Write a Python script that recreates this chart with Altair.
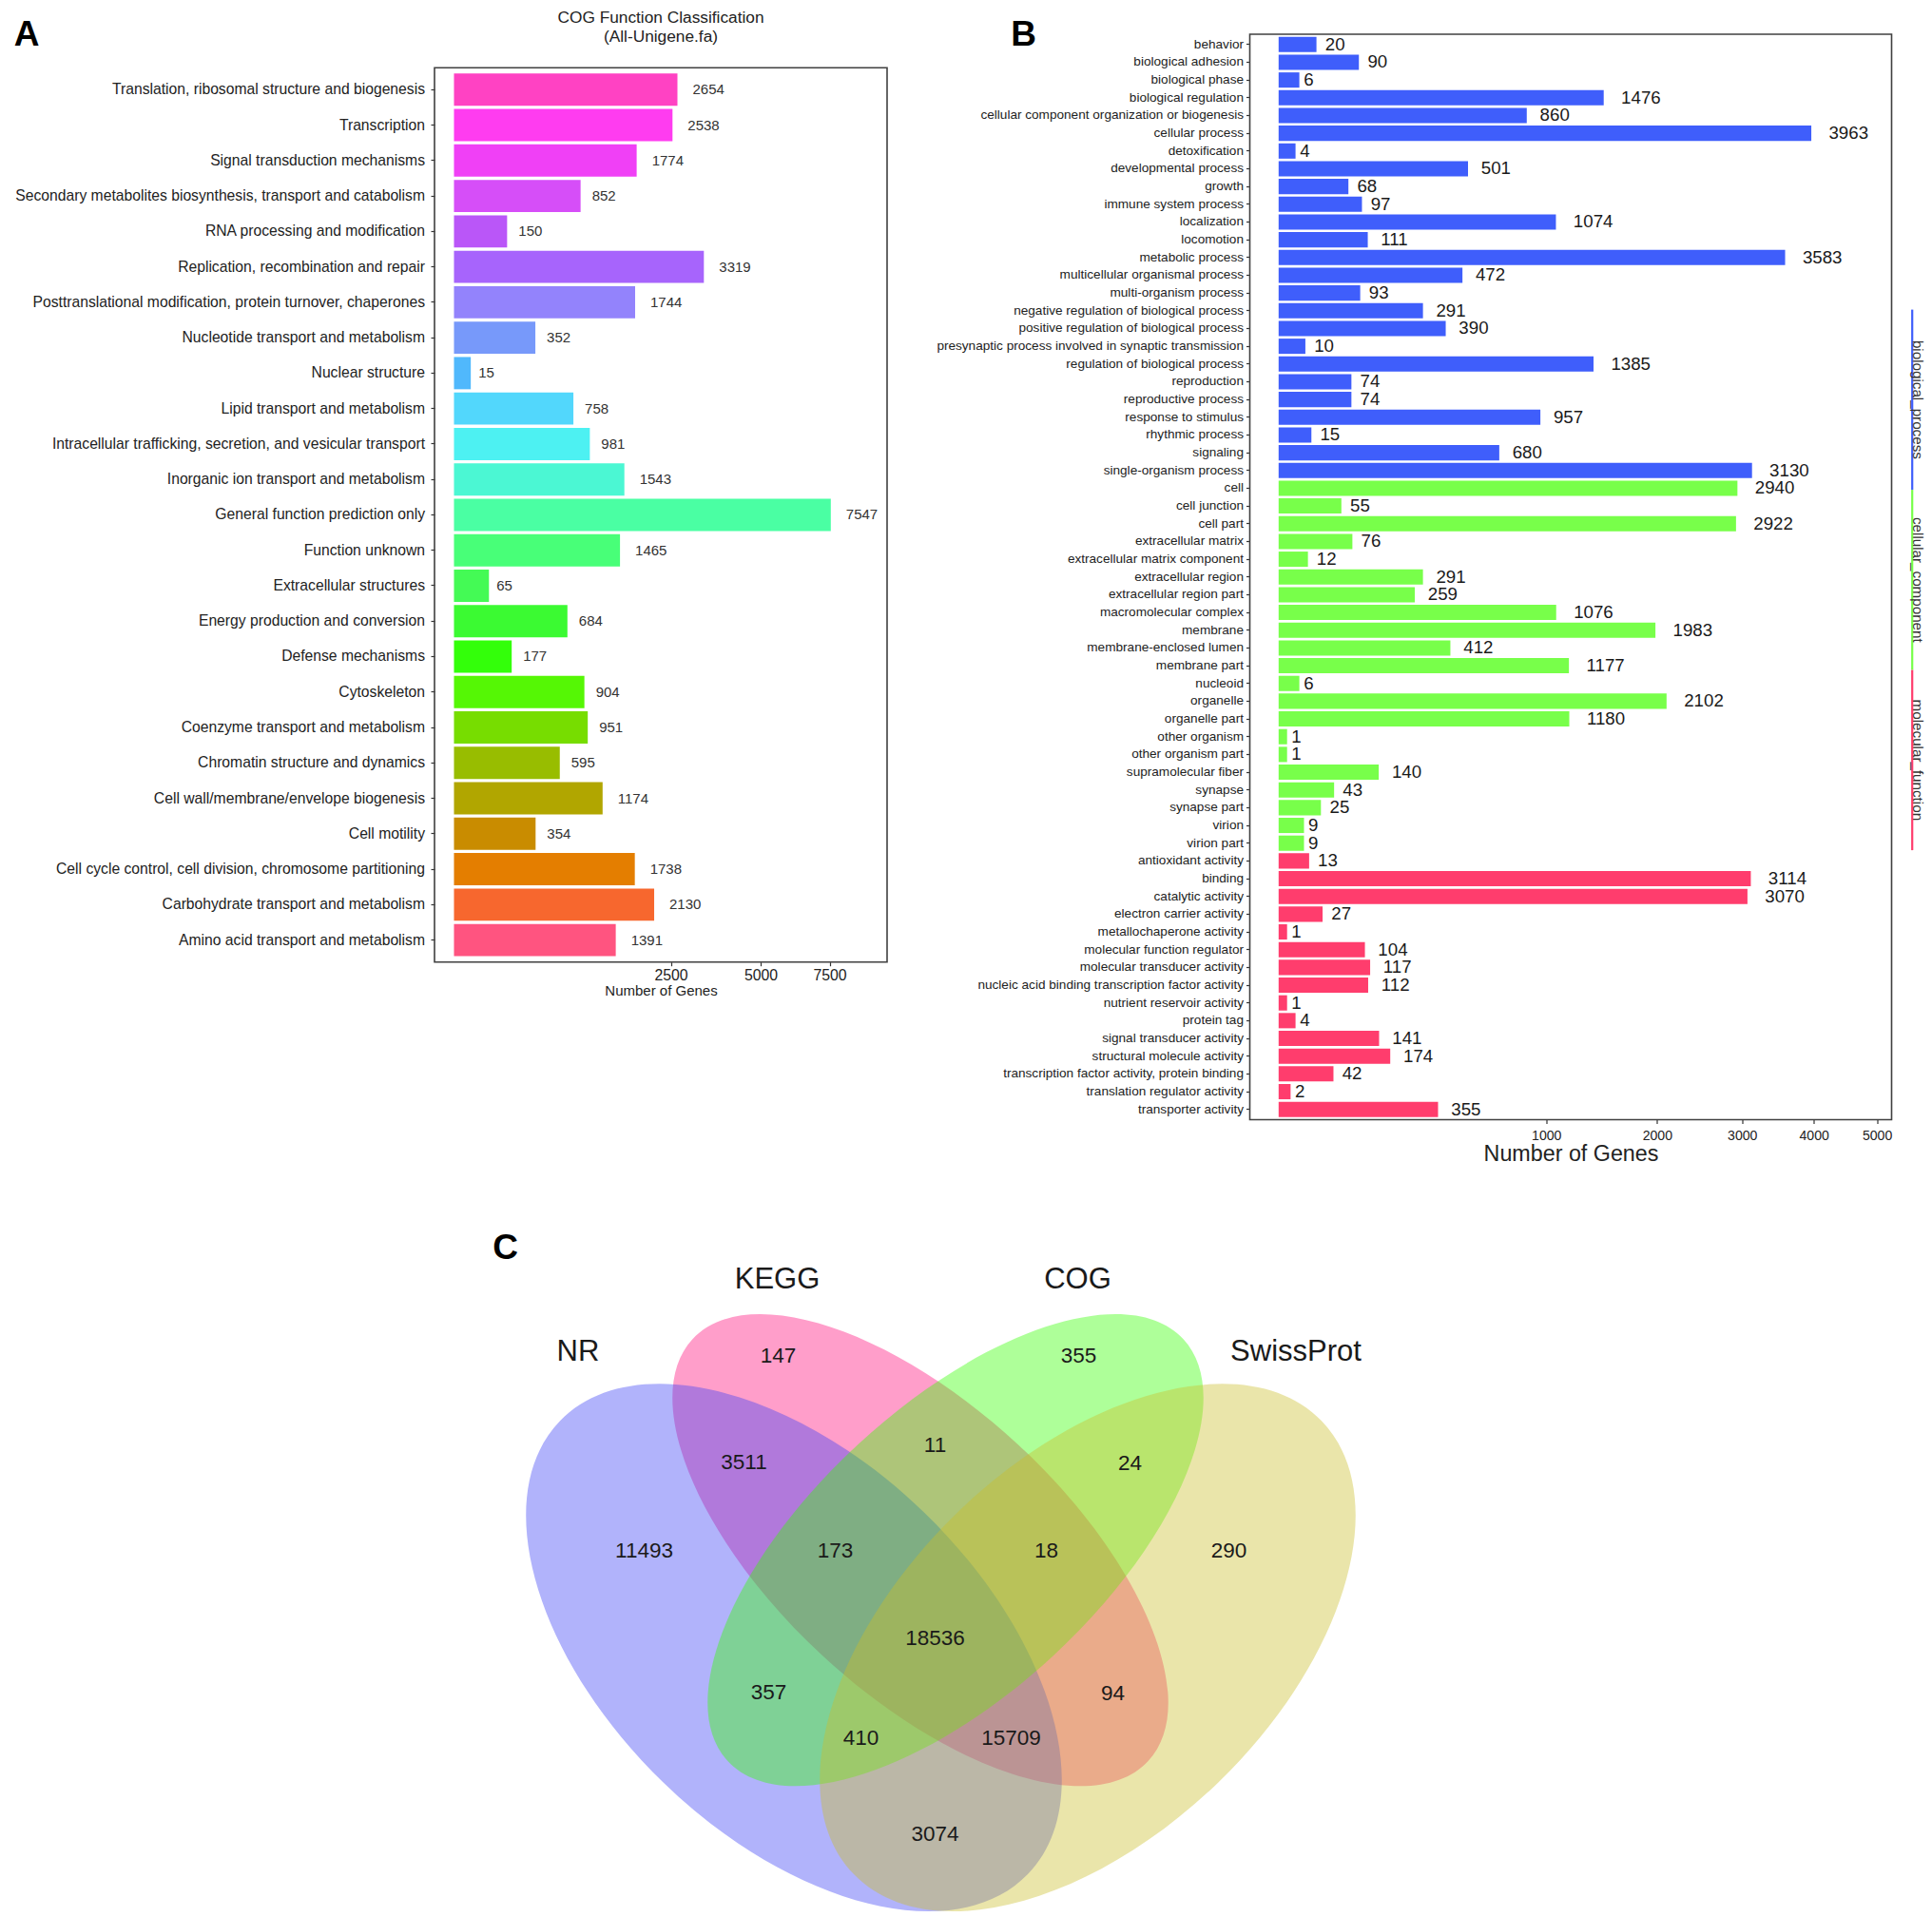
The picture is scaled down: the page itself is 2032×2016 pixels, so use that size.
import altair as alt
import pandas as pd

NARROW = "Liberation Sans Narrow, Arial Narrow, Liberation Sans, Arial, sans-serif"
REGULAR = "Liberation Sans, Arial, Helvetica, sans-serif"
INK = "#222222"
FRAME = "#404040"

# ---------------- Panel A data ----------------
A_TITLE = ["COG Function Classification", "(All-Unigene.fa)"]
COG_CATEGORIES = [
    "Translation, ribosomal structure and biogenesis",
    "Transcription",
    "Signal transduction mechanisms",
    "Secondary metabolites biosynthesis, transport and catabolism",
    "RNA processing and modification",
    "Replication, recombination and repair",
    "Posttranslational modification, protein turnover, chaperones",
    "Nucleotide transport and metabolism",
    "Nuclear structure",
    "Lipid transport and metabolism",
    "Intracellular trafficking, secretion, and vesicular transport",
    "Inorganic ion transport and metabolism",
    "General function prediction only",
    "Function unknown",
    "Extracellular structures",
    "Energy production and conversion",
    "Defense mechanisms",
    "Cytoskeleton",
    "Coenzyme transport and metabolism",
    "Chromatin structure and dynamics",
    "Cell wall/membrane/envelope biogenesis",
    "Cell motility",
    "Cell cycle control, cell division, chromosome partitioning",
    "Carbohydrate transport and metabolism",
    "Amino acid transport and metabolism",
]
COG_COUNTS = [2654, 2538, 1774, 852, 150, 3319, 1744, 352, 15, 758, 981, 1543,
              7547, 1465, 65, 684, 177, 904, 951, 595, 1174, 354, 1738, 2130, 1391]
COG_COLORS = ["#FF42C3", "#FF3CF0", "#F040F6", "#D64EF8", "#BA56F8", "#A764FC",
              "#9383FC", "#7799FA", "#50B8FC", "#52D7FC", "#4DF1F2", "#4BF7D3",
              "#4AFFA3", "#48FF78", "#44FA55", "#3BFA32", "#33FF0A", "#55F705",
              "#77DD00", "#98BD00", "#B1A600", "#C98C00", "#E47E00", "#F7672E",
              "#FF5480"]
A_XTICKS = [2500, 5000, 7500]
A_XTITLE = "Number of Genes"

# ---------------- Panel B data ----------------
BP_TERMS = ["behavior", "biological adhesion", "biological phase", "biological regulation",
            "cellular component organization or biogenesis", "cellular process",
            "detoxification", "developmental process", "growth", "immune system process",
            "localization", "locomotion", "metabolic process", "multicellular organismal process",
            "multi-organism process", "negative regulation of biological process",
            "positive regulation of biological process",
            "presynaptic process involved in synaptic transmission",
            "regulation of biological process", "reproduction", "reproductive process",
            "response to stimulus", "rhythmic process", "signaling", "single-organism process"]
BP_COUNTS = [20, 90, 6, 1476, 860, 3963, 4, 501, 68, 97, 1074, 111, 3583, 472, 93, 291,
             390, 10, 1385, 74, 74, 957, 15, 680, 3130]
CC_TERMS = ["cell", "cell junction", "cell part", "extracellular matrix",
            "extracellular matrix component", "extracellular region", "extracellular region part",
            "macromolecular complex", "membrane", "membrane-enclosed lumen", "membrane part",
            "nucleoid", "organelle", "organelle part", "other organism", "other organism part",
            "supramolecular fiber", "synapse", "synapse part", "virion", "virion part"]
CC_COUNTS = [2940, 55, 2922, 76, 12, 291, 259, 1076, 1983, 412, 1177, 6, 2102, 1180, 1, 1,
             140, 43, 25, 9, 9]
MF_TERMS = ["antioxidant activity", "binding", "catalytic activity", "electron carrier activity",
            "metallochaperone activity", "molecular function regulator",
            "molecular transducer activity", "nucleic acid binding transcription factor activity",
            "nutrient reservoir activity", "protein tag", "signal transducer activity",
            "structural molecule activity", "transcription factor activity, protein binding",
            "translation regulator activity", "transporter activity"]
MF_COUNTS = [13, 3114, 3070, 27, 1, 104, 117, 112, 1, 4, 141, 174, 42, 2, 355]
GO_CLASSES = ["biological_process", "cellular_component", "molecular_function"]
GO_COLORS = ["#3F5EFB", "#78FF4A", "#FF3D6D"]
B_XTICKS = [1000, 2000, 3000, 4000, 5000]
B_XTITLE = "Number of Genes"

# ---------------- Panel C data ----------------
VENN_SETS = ["NR", "KEGG", "COG", "SwissProt"]
VENN_FILLS = ["#3C41F5", "#FF0C7A", "#34FF00", "#CABE2A"]
VENN_DRAW_ORDER = [1, 0, 2, 3]
VENN_REGION_COUNTS = [147, 355, 3511, 11, 24, 11493, 173, 18, 290, 18536, 357, 94, 410, 15709, 3074]
PANEL_LETTERS = ["A", "B", "C"]

# ---------------- layout (pixels, not data) ----------------
A_W, A_H = 476, 975.7
A_BAND_RANGE = [35.2, 975.7]
A_XDOMAIN = [-20.15, 9970]
B_W, B_H = 675, 1141.5
B_XDOMAIN = [-11.59, 5247.6]
C_W, C_H = 476, 810
C_XDOMAIN = [456.5, 932.5]
C_YDOMAIN = [1198, 2008]
COL_GAP = 381.5
ROW_GAP = 20.5
STRIP_X, STRIP_TEXT_X, STRIP_TOP, STRIP_LEN = 696.7, 702.5, 289.6, 189.5
# Venn geometry in page pixels
ELL_CX = [834.5, 967.5, 1004.5, 1143.5]
ELL_CY = [1732.2, 1629.7, 1629.7, 1732.2]
ELL_A = [342.5, 326.5, 326.5, 342.5]
ELL_B = [197.4, 151.3, 151.3, 197.4]
ELL_ANGLE = [44.1, 42.8, 317.2, 315.9]
SET_LABEL_X = [607.5, 817, 1133, 1362.5]
SET_LABEL_Y = [1421.7, 1345.5, 1345.5, 1421.7]
REGION_X = [818, 1134, 782, 983, 1188, 677, 878, 1100, 1292, 983, 808, 1170, 905, 1063, 983]
REGION_Y = [1425, 1425, 1537, 1519, 1538, 1630, 1630, 1630, 1630, 1722, 1779, 1780, 1827, 1827, 1928]

one = pd.DataFrame({"k": [0]})


def deco_text(text, x, y, size, font=REGULAR, weight="normal", angle=None,
              baseline="middle", color=INK):
    kw = dict(font=font, fontSize=size, fontWeight=weight, color=color,
              align="center", baseline=baseline)
    if angle is not None:
        kw["angle"] = angle
    return alt.Chart(one).mark_text(**kw).encode(
        x=alt.value(x), y=alt.value(y), text=alt.value(text))


def frame(w, y0, y1):
    return alt.Chart(one).mark_rect(fillOpacity=0, stroke=FRAME, strokeWidth=1.6).encode(
        x=alt.value(0), x2=alt.value(w), y=alt.value(y0), y2=alt.value(y1))


def anchor(x, y):
    return alt.Chart(one).mark_rule(opacity=0).encode(
        x=alt.value(x), x2=alt.value(x + 0.5), y=alt.value(y))


def value_labels(base, nds, digit_w, factor, size, color):
    out = []
    for n in sorted(set(nds)):
        n = int(n)
        out.append(base.mark_text(align="left", baseline="middle",
                                  dx=round(factor * n * digit_w, 1),
                                  font=NARROW, fontSize=size, color=color)
                   .encode(text="label:N")
                   .transform_filter(alt.datum.nd == n))
    return out


# ---------------- Panel A ----------------
a_df = pd.DataFrame({"category": COG_CATEGORIES, "count": COG_COUNTS, "color": COG_COLORS})
a_df["label"] = a_df["count"].astype(str)
a_df["nd"] = a_df["label"].str.len()

xA = alt.X("count:Q",
           scale=alt.Scale(type="sqrt", domain=A_XDOMAIN),
           axis=alt.Axis(values=A_XTICKS, format="d", title=A_XTITLE, domain=False, grid=False,
                         tickSize=4, tickColor="#333", tickWidth=1.2, labelFlush=False,
                         labelOverlap=False, labelFont=NARROW, labelFontSize=15.8,
                         labelColor=INK, labelPadding=3, titleFont=NARROW, titleFontSize=15,
                         titleFontWeight="normal", titleColor=INK, titlePadding=1))
yA = alt.Y("category:N", sort=COG_CATEGORIES,
           scale=alt.Scale(range=A_BAND_RANGE, paddingInner=0.09, paddingOuter=0.165),
           axis=alt.Axis(title=None, domain=False, grid=False, tickSize=4, tickColor="#333",
                         tickWidth=1.2, labelFont=NARROW, labelFontSize=15.7, labelColor=INK,
                         labelPadding=6.5, labelLimit=1000))
base_a = alt.Chart(a_df).encode(x=xA, y=yA)
bars_a = base_a.mark_bar().encode(x2=alt.datum(0), fill=alt.Fill("color:N", scale=None))
texts_a = value_labels(base_a, a_df["nd"], 8.0, 0.5, 15, "#333333")
chart_a = alt.layer(
    bars_a, *texts_a, frame(A_W, A_BAND_RANGE[0], A_BAND_RANGE[1]),
    deco_text(A_TITLE[0], A_W / 2, -26, 17.3, baseline="top"),
    deco_text(A_TITLE[1], A_W / 2, -5.7, 17.3, baseline="top"),
    deco_text(PANEL_LETTERS[0], -429, 0.5, 37, weight="bold", color="black"),
    anchor(-448.5, 400),
).properties(width=A_W, height=A_H)

# ---------------- Panel B ----------------
terms = BP_TERMS + CC_TERMS + MF_TERMS
counts = BP_COUNTS + CC_COUNTS + MF_COUNTS
classes = ([GO_CLASSES[0]] * len(BP_TERMS) + [GO_CLASSES[1]] * len(CC_TERMS)
           + [GO_CLASSES[2]] * len(MF_TERMS))
b_df = pd.DataFrame({"term": terms, "count": counts, "cls": classes})
b_df["label"] = b_df["count"].astype(str)
b_df["nd"] = b_df["label"].str.len()

xB = alt.X("count:Q",
           scale=alt.Scale(type="sqrt", domain=B_XDOMAIN),
           axis=alt.Axis(values=B_XTICKS, format="d", title=B_XTITLE, domain=False, grid=False,
                         tickSize=4, tickColor="#333", tickWidth=1.2, labelFlush=False,
                         labelOverlap=False, labelFont=NARROW, labelFontSize=14.1,
                         labelColor=INK, labelPadding=5.7, titleFont=NARROW, titleFontSize=23.3,
                         titleFontWeight="normal", titleColor=INK, titlePadding=1))
yB = alt.Y("term:N", sort=terms,
           scale=alt.Scale(paddingInner=0.14, paddingOuter=0.15),
           axis=alt.Axis(title=None, domain=False, grid=False, tickSize=4, tickColor="#333",
                         tickWidth=1.2, labelFont=NARROW, labelFontSize=13.6, labelColor=INK,
                         labelPadding=3, labelLimit=1000))
base_b = alt.Chart(b_df).encode(x=xB, y=yB)
bars_b = base_b.mark_bar().encode(
    x2=alt.datum(0),
    fill=alt.Fill("cls:N", scale=alt.Scale(domain=GO_CLASSES, range=GO_COLORS), legend=None))
texts_b = value_labels(base_b, b_df["nd"], 9.8, 0.47, 18.7, "#1a1a1a")
strips = []
for i, (name, col) in enumerate(zip(GO_CLASSES, GO_COLORS)):
    y0 = STRIP_TOP + i * STRIP_LEN
    strips.append(alt.Chart(one).mark_rule(strokeWidth=2.2, color=col).encode(
        x=alt.value(STRIP_X), y=alt.value(y0), y2=alt.value(y0 + STRIP_LEN)))
    strips.append(deco_text(name, STRIP_TEXT_X, y0 + STRIP_LEN / 2, 15.2, font=NARROW,
                            angle=90, color="#333333"))
chart_b = alt.layer(
    bars_b, *texts_b, frame(B_W, 0, B_H), *strips,
    deco_text(PANEL_LETTERS[1], -238, 0.5, 37, weight="bold", color="black"),
    anchor(300, -28),
).properties(width=B_W, height=B_H)

# ---------------- Panel C (Venn) ----------------
K = 0.5523


def ellipse_path(r):
    k = K
    return (f"M -1 0 C -1 {-k*r:.4f} {-k:.4f} {-r:.4f} 0 {-r:.4f} "
            f"C {k:.4f} {-r:.4f} 1 {-k*r:.4f} 1 0 "
            f"C 1 {k*r:.4f} {k:.4f} {r:.4f} 0 {r:.4f} "
            f"C {-k:.4f} {r:.4f} -1 {k*r:.4f} -1 0 Z")


ell_df = pd.DataFrame({
    "set": VENN_SETS, "fill": VENN_FILLS, "cx": ELL_CX, "cy": ELL_CY,
    "angle": ELL_ANGLE,
    "size": [4 * a * a for a in ELL_A],
    "path": [ellipse_path(b / a) for a, b in zip(ELL_A, ELL_B)],
}).iloc[VENN_DRAW_ORDER].reset_index(drop=True)
xC = dict(scale=alt.Scale(domain=C_XDOMAIN), axis=None)
yC = dict(scale=alt.Scale(domain=C_YDOMAIN, reverse=True), axis=None)
ellipses = alt.Chart(ell_df).mark_point(filled=True, opacity=0.4, strokeWidth=0).encode(
    x=alt.X("cx:Q", **xC), y=alt.Y("cy:Q", **yC),
    shape=alt.Shape("path:N", scale=None),
    size=alt.Size("size:Q", scale=None),
    angle=alt.Angle("angle:Q", scale=None),
    fill=alt.Fill("fill:N", scale=None),
)
set_df = pd.DataFrame({"name": VENN_SETS, "lx": SET_LABEL_X, "ly": SET_LABEL_Y})
set_labels = alt.Chart(set_df).mark_text(font=REGULAR, fontSize=31, color="#1a1a1a",
                                         align="center", baseline="middle").encode(
    x=alt.X("lx:Q", **xC), y=alt.Y("ly:Q", **yC), text="name:N")
reg_df = pd.DataFrame({"n": [str(v) for v in VENN_REGION_COUNTS], "rx": REGION_X, "ry": REGION_Y})
reg_labels = alt.Chart(reg_df).mark_text(font=REGULAR, fontSize=22.5, color="#1a1a1a",
                                         align="center", baseline="middle").encode(
    x=alt.X("rx:Q", **xC), y=alt.Y("ry:Q", **yC), text="n:N")
letter_df = pd.DataFrame({"t": [PANEL_LETTERS[2]], "lx": [531], "ly": [1312]})
letter_c = alt.Chart(letter_df).mark_text(font=REGULAR, fontSize=37, fontWeight="bold",
                                          color="black", align="center",
                                          baseline="middle").encode(
    x=alt.X("lx:Q", **xC), y=alt.Y("ly:Q", **yC), text="t:N")
chart_c = alt.layer(ellipses, set_labels, reg_labels, letter_c).properties(width=C_W, height=C_H)

chart = alt.concat(
    chart_a, chart_b, chart_c, columns=2,
    spacing={"row": ROW_GAP, "column": COL_GAP}, bounds="flush",
).properties(padding=0).configure_view(strokeOpacity=0)

chart.save("out.html", embed_options={"renderer": "svg", "actions": False})
